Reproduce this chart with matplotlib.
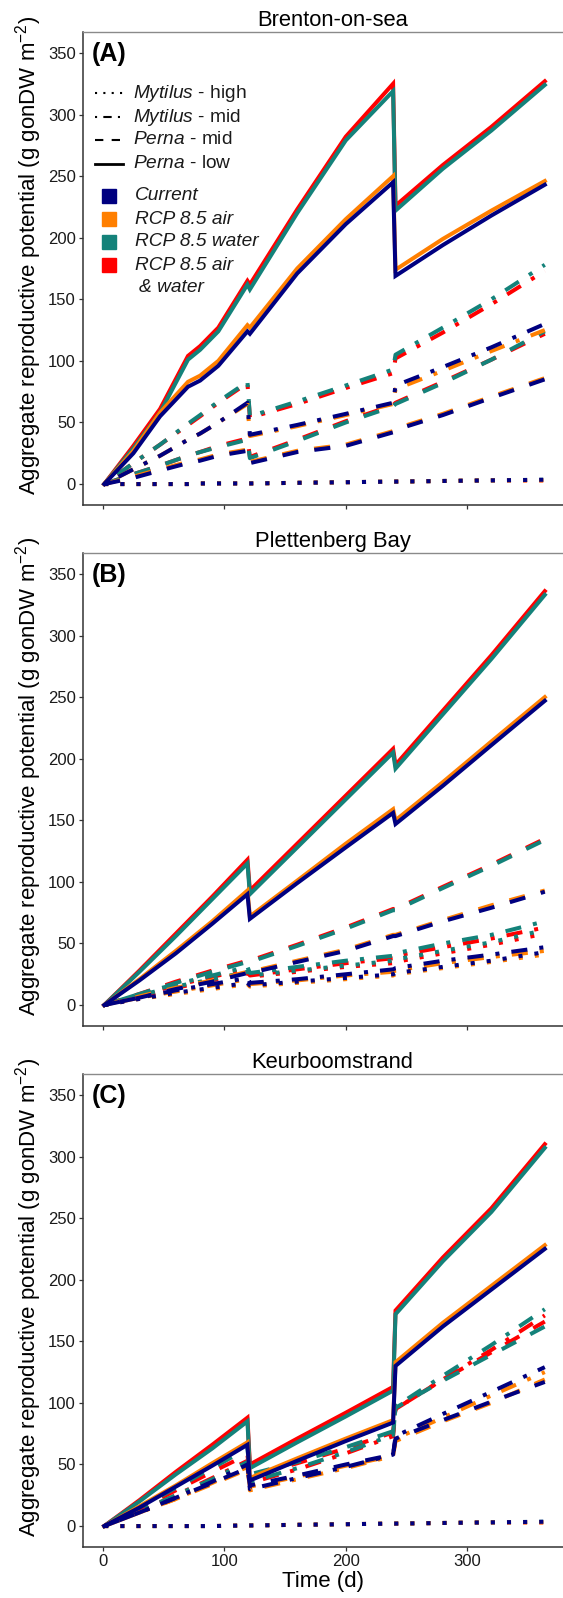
import matplotlib
matplotlib.use("Agg")
import matplotlib.pyplot as plt
from matplotlib.lines import Line2D

plt.rcParams['font.family'] = ['Liberation Sans', 'DejaVu Sans']
plt.rcParams['mathtext.fontset'] = 'custom'
plt.rcParams['mathtext.rm'] = 'Liberation Sans'
plt.rcParams['mathtext.it'] = 'Liberation Sans:italic'
plt.rcParams['mathtext.bf'] = 'Liberation Sans:bold'

# ---------------- data ----------------
sites = ["Brenton-on-sea", "Plettenberg Bay", "Keurboomstrand"]
panel_tags = ["(A)", "(B)", "(C)"]
scenarios = ["Current", "RCP 8.5 air", "RCP 8.5 water", "RCP 8.5 air & water"]
groups = ["Mytilus - high", "Mytilus - mid", "Perna - mid", "Perna - low"]
x_ticks = [0, 100, 200, 300]
y_ticks = [0, 50, 100, 150, 200, 250, 300, 350]

# Panel A - Brenton-on-sea
days_A = [1, 25, 47, 70, 80, 95, 119, 121, 160, 200, 239, 241, 280, 320, 364]
A_mh_current  = [0, 0, 0, 0, 0.5, 0.5, 0.5, 0.5, 1, 1.5, 2, 2, 2.5, 3, 3.5]
A_mh_air      = [0, 0, 0, 0, 0.5, 0.5, 0.5, 0.5, 1, 1.5, 2, 2, 2.5, 3, 3]
A_mh_water    = [0, 0, 0, 0, 0.5, 0.5, 0.5, 0.5, 1, 1.5, 2, 2, 2.5, 3, 3.5]
A_mh_airwater = [0, 0, 0, 0, 0.5, 0.5, 0.5, 0.5, 1, 1.5, 2, 2, 2.5, 3, 3]
A_mm_current  = [0, 12, 23, 36, 41, 50, 66, 40, 48, 57, 66, 80, 95, 111, 130]
A_mm_air      = [0, 12, 23, 36, 41, 50, 65, 39, 47, 56, 65, 77, 92, 108, 125]
A_mm_water    = [0, 17, 32, 49, 56, 67, 83, 55, 67, 80, 93, 105, 127, 150, 178]
A_mm_airwater = [0, 17, 32, 48, 55, 66, 82, 54, 65, 78, 90, 102, 123, 146, 173]
A_pm_current  = [0, 5, 11, 17, 19, 23, 27, 17, 26, 31, 42, 44, 56, 70, 85]
A_pm_air      = [0, 6, 12, 18, 20, 24, 28, 18, 27, 32, 43, 45, 57, 71, 86]
A_pm_water    = [0, 8, 15, 23, 26, 30, 36, 21, 35, 50, 63, 65, 82, 101, 124]
A_pm_airwater = [0, 8, 15, 23, 26, 31, 37, 22, 36, 51, 64, 66, 83, 101, 122]
A_pl_current  = [0, 25, 55, 79, 84, 96, 124, 122, 171, 211, 245, 169, 194, 218, 243]
A_pl_air      = [0, 27, 58, 83, 88, 100, 129, 127, 175, 215, 250, 174, 199, 222, 246]
A_pl_water    = [0, 29, 58, 101, 109, 124, 162, 158, 220, 279, 319, 222, 256, 287, 324]
A_pl_airwater = [0, 31, 61, 104, 112, 127, 165, 162, 223, 282, 325, 226, 259, 290, 327]

# Panel B - Plettenberg Bay
days_B = [1, 30, 60, 90, 119, 121, 160, 200, 239, 241, 280, 320, 364]
B_mh_current  = [0, 5, 10, 14, 18, 16, 19, 22, 25, 26, 31, 36, 43]
B_mh_air      = [0, 5, 9, 13, 17, 15, 18, 21, 24, 25, 30, 35, 41]
B_mh_water    = [0, 8, 15, 21, 27, 24, 28, 32, 36, 37, 44, 51, 61]
B_mh_airwater = [0, 7, 14, 20, 26, 23, 27, 31, 34, 35, 42, 49, 58]
B_mm_current  = [0, 6, 12, 17, 22, 18, 21, 25, 29, 30, 36, 41, 47]
B_mm_air      = [0, 6, 11, 16, 21, 17, 20, 24, 27, 28, 34, 39, 44]
B_mm_water    = [0, 9, 17, 24, 31, 26, 31, 36, 40, 42, 50, 57, 68]
B_mm_airwater = [0, 8, 16, 23, 29, 24, 29, 34, 38, 40, 47, 54, 63]
B_pm_current  = [0, 6, 13, 19, 26, 26, 35, 44, 56, 56, 68, 79, 92]
B_pm_air      = [0, 7, 14, 20, 27, 27, 36, 45, 57, 57, 69, 81, 93]
B_pm_water    = [0, 9, 18, 27, 35, 35, 48, 62, 77, 77, 95, 113, 134]
B_pm_airwater = [0, 9, 19, 28, 36, 36, 49, 63, 78, 78, 96, 114, 135]
B_pl_current  = [0, 20, 42, 66, 90, 70, 99, 128, 156, 147, 178, 211, 247]
B_pl_air      = [0, 21, 44, 68, 93, 72, 101, 131, 159, 150, 181, 214, 250]
B_pl_water    = [0, 27, 56, 86, 115, 90, 128, 167, 205, 192, 236, 281, 333]
B_pl_airwater = [0, 28, 58, 88, 118, 93, 131, 170, 208, 195, 239, 284, 336]

# Panel C - Keurboomstrand
days_C = [1, 30, 60, 90, 119, 121, 160, 200, 239, 241, 280, 320, 364]
C_mh_current  = [0, 0, 0, 0, 0.5, 0.5, 1, 1.5, 2, 2, 2.5, 3, 3.5]
C_mh_air      = [0, 0, 0, 0, 0.5, 0.5, 1, 1.5, 2, 2, 2.5, 3, 3]
C_mh_water    = [0, 0, 0, 0, 0.5, 0.5, 1, 1.5, 2, 2, 2.5, 3, 3.5]
C_mh_airwater = [0, 0, 0, 0, 0.5, 0.5, 1, 1.5, 2, 2, 2.5, 3, 3]
C_mm_current  = [0, 11, 23, 36, 50, 30, 39, 48, 58, 73, 91, 109, 129]
C_mm_air      = [0, 11, 22, 35, 48, 29, 38, 47, 57, 71, 88, 106, 125]
C_mm_water    = [0, 12, 25, 38, 52, 36, 47, 60, 74, 97, 122, 147, 176]
C_mm_airwater = [0, 12, 25, 39, 53, 35, 46, 59, 73, 95, 119, 143, 171]
C_pm_current  = [0, 11, 23, 35, 47, 33, 41, 50, 58, 71, 86, 101, 117]
C_pm_air      = [0, 11, 22, 34, 46, 32, 40, 49, 57, 69, 85, 100, 119]
C_pm_water    = [0, 15, 31, 47, 63, 42, 52, 64, 77, 96, 118, 139, 162]
C_pm_airwater = [0, 14, 29, 44, 58, 40, 51, 63, 76, 95, 119, 141, 166]
C_pl_current  = [0, 15, 32, 49, 66, 37, 53, 69, 84, 130, 162, 192, 225]
C_pl_air      = [0, 16, 33, 51, 68, 39, 55, 71, 86, 133, 165, 195, 228]
C_pl_water    = [0, 20, 42, 63, 85, 47, 68, 89, 110, 172, 215, 255, 307]
C_pl_airwater = [0, 21, 44, 66, 88, 50, 71, 92, 113, 175, 218, 258, 310]

panels = [
    (days_A, {
        "Mytilus - high": [A_mh_current, A_mh_air, A_mh_water, A_mh_airwater],
        "Mytilus - mid": [A_mm_current, A_mm_air, A_mm_water, A_mm_airwater],
        "Perna - mid": [A_pm_current, A_pm_air, A_pm_water, A_pm_airwater],
        "Perna - low": [A_pl_current, A_pl_air, A_pl_water, A_pl_airwater],
    }),
    (days_B, {
        "Mytilus - high": [B_mh_current, B_mh_air, B_mh_water, B_mh_airwater],
        "Mytilus - mid": [B_mm_current, B_mm_air, B_mm_water, B_mm_airwater],
        "Perna - mid": [B_pm_current, B_pm_air, B_pm_water, B_pm_airwater],
        "Perna - low": [B_pl_current, B_pl_air, B_pl_water, B_pl_airwater],
    }),
    (days_C, {
        "Mytilus - high": [C_mh_current, C_mh_air, C_mh_water, C_mh_airwater],
        "Mytilus - mid": [C_mm_current, C_mm_air, C_mm_water, C_mm_airwater],
        "Perna - mid": [C_pm_current, C_pm_air, C_pm_water, C_pm_airwater],
        "Perna - low": [C_pl_current, C_pl_air, C_pl_water, C_pl_airwater],
    }),
]

# ---------------- style ----------------
colors = ["#000080", "#FF7F00", "#14827A", "#FF0000"]
linestyles = {
    "Mytilus - high": (0, (1, 3)),
    "Mytilus - mid": (0, (1, 3, 4, 3)),
    "Perna - mid": (0, (4, 4)),
    "Perna - low": "-",
}
legend_labels = [r"$\mathit{Mytilus}$ - high", r"$\mathit{Mytilus}$ - mid",
                 r"$\mathit{Perna}$ - mid", r"$\mathit{Perna}$ - low"]
draw_order = [3, 2, 1, 0]   # air&water, water, air, current (current on top)

W, H = 563, 1598
fig = plt.figure(figsize=(W / 100, H / 100), dpi=100)
ax_left, ax_right = 83, 563
tops = [32, 553, 1074]
ax_h = 473

spine_col = "#333333"
for i, (days, series) in enumerate(panels):
    top = tops[i]
    ax = fig.add_axes([ax_left / W, (H - top - ax_h) / H, (ax_right - ax_left) / W, ax_h / H])
    for si in draw_order:
        for g in groups:
            ax.plot(days, series[g][si], color=colors[si], lw=2.9,
                    linestyle=linestyles[g], dash_capstyle="butt",
                    solid_joinstyle="miter")
    ax.set_xlim(-16.5, 379)
    ax.set_ylim(-17, 367)
    ax.set_xticks(x_ticks)
    ax.set_yticks(y_ticks)
    ax.tick_params(axis="both", direction="out", length=3.2, width=0.9,
                   color=spine_col, labelsize=12, labelcolor="#1a1a1a", pad=2)
    if i < 2:
        ax.tick_params(axis="x", labelbottom=False)
    else:
        ax.set_xlabel("Time (d)", fontsize=16, labelpad=1)
    ax.spines["right"].set_visible(False)
    ax.spines["top"].set_color("#8a8a8a")
    ax.spines["top"].set_linewidth(1.0)
    for s in ["left", "bottom"]:
        ax.spines[s].set_color(spine_col)
        ax.spines[s].set_linewidth(1.1)
    ax.set_title(sites[i], fontsize=15.8, pad=4.5, x=0.52)
    ax.set_ylabel("Aggregate reproductive potential (g gonDW m$^{-2}$)", fontsize=16)
    ax.yaxis.set_label_coords(-0.082, 0.528)
    ax.text(0.019, 0.979, panel_tags[i], transform=ax.transAxes, fontsize=18,
            fontweight="bold", ha="left", va="top")

    if i == 0:
        fx = lambda px: (px - ax_left) / (ax_right - ax_left)
        fy = lambda py: (top + ax_h - py) / ax_h
        rows = [93, 117, 140, 164]
        for g, lab, py in zip(groups, legend_labels, rows):
            lw = 2.0 if g == "Perna - low" else 1.5
            ax.add_line(Line2D([fx(95), fx(123)], [fy(py), fy(py)], color="black",
                               lw=lw, linestyle=linestyles[g], dash_capstyle="butt",
                               transform=ax.transAxes))
            ax.text(fx(133), fy(py), lab, transform=ax.transAxes, fontsize=13.8,
                    ha="left", va="center", color="#1a1a1a")
        crow = [196, 219, 242, 265]
        clabels = ["Current", "RCP 8.5 air", "RCP 8.5 water", "RCP 8.5 air"]
        for c, lab, py in zip(colors, clabels, crow):
            ax.plot([fx(109)], [fy(py)], marker="s", markersize=9.5, color=c,
                    transform=ax.transAxes, linestyle="none")
            ax.text(fx(135), fy(py), lab, transform=ax.transAxes, fontsize=13.8,
                    ha="left", va="center", style="italic", color="#1a1a1a")
        ax.text(fx(139), fy(288), "& water", transform=ax.transAxes, fontsize=13.8,
                ha="left", va="center", style="italic", color="#1a1a1a")

fig.savefig("out.png", dpi=100)
